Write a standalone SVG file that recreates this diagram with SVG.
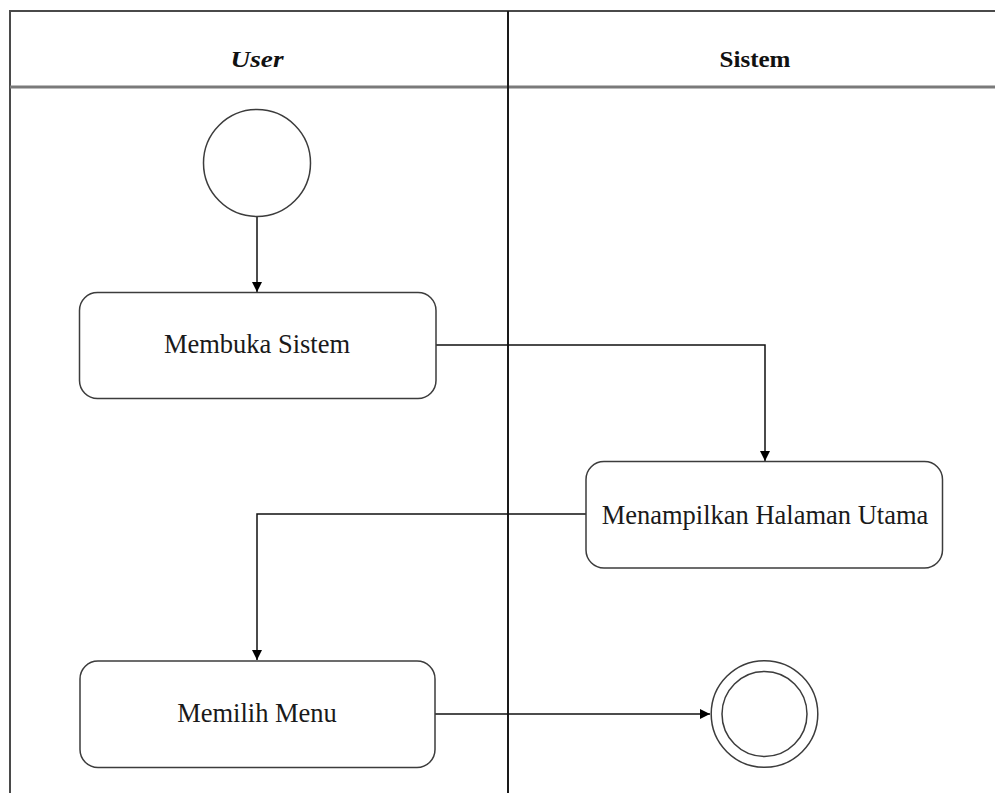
<svg xmlns="http://www.w3.org/2000/svg" width="995" height="793" viewBox="0 0 995 793">
  <defs>
    <style>
      .lane { stroke: #4a4a4a; stroke-width: 2; fill: none; }
      .head { stroke: #7a7a7a; stroke-width: 3; fill: none; }
      .divider { stroke: #1a1a1a; stroke-width: 2; fill: none; }
      .node { fill: #ffffff; stroke: #3c3c3c; stroke-width: 1.5; }
      .conn { stroke: #111111; stroke-width: 1.5; fill: none; }
      .label { font-size: 26.5px; fill: #1a1a1a; text-anchor: middle; }
      .title { font-size: 24px; font-weight: bold; fill: #111111; text-anchor: middle; }
    </style>
    <marker id="arrow" viewBox="0 0 10 10" refX="10" refY="5" markerWidth="10" markerHeight="11" markerUnits="userSpaceOnUse" orient="auto">
      <path d="M0,0 L10,5 L0,10 Z" fill="#000000"/>
    </marker>
  </defs>

  <rect width="995" height="793" fill="#ffffff"/>

  <!-- swimlane frame -->
  <g id="lanes" font-family="Liberation Serif, Times New Roman, Tinos, DejaVu Serif, serif">
    <path class="lane" d="M10,793 L10,11 L995,11"/>
    <path class="head" d="M10,87 L995,87"/>
    <path class="divider" d="M508,11 L508,793"/>
    <text class="title" x="257" y="67" font-style="italic" textLength="53" lengthAdjust="spacingAndGlyphs">User</text>
    <text class="title" x="755" y="67" textLength="71" lengthAdjust="spacingAndGlyphs">Sistem</text>
  </g>

  <!-- connectors -->
  <g id="connectors">
    <path class="conn" d="M257,217 L257,292" marker-end="url(#arrow)"/>
    <path class="conn" d="M436,345 L765,345 L765,461" marker-end="url(#arrow)"/>
    <path class="conn" d="M586,514 L257,514 L257,660" marker-end="url(#arrow)"/>
    <path class="conn" d="M435,714 L710,714" marker-end="url(#arrow)"/>
  </g>

  <g id="start">
    <circle class="node" cx="257" cy="163" r="53.5"/>
  </g>

  <g id="membuka-sistem" font-family="Liberation Serif, Times New Roman, Tinos, DejaVu Serif, serif">
    <rect class="node" x="79.5" y="292.5" width="356.5" height="106" rx="18" ry="18"/>
    <text class="label" x="257" y="353">Membuka Sistem</text>
  </g>

  <g id="menampilkan-halaman-utama" font-family="Liberation Serif, Times New Roman, Tinos, DejaVu Serif, serif">
    <rect class="node" x="586" y="461.5" width="356.5" height="106.5" rx="18" ry="18"/>
    <text class="label" x="765" y="524">Menampilkan Halaman Utama</text>
  </g>

  <g id="memilih-menu" font-family="Liberation Serif, Times New Roman, Tinos, DejaVu Serif, serif">
    <rect class="node" x="80" y="661" width="355" height="106.5" rx="18" ry="18"/>
    <text class="label" x="257" y="722">Memilih Menu</text>
  </g>

  <g id="end">
    <circle class="node" cx="764.5" cy="714" r="53.3"/>
    <circle class="node" cx="764.5" cy="714" r="42.5"/>
  </g>
</svg>
